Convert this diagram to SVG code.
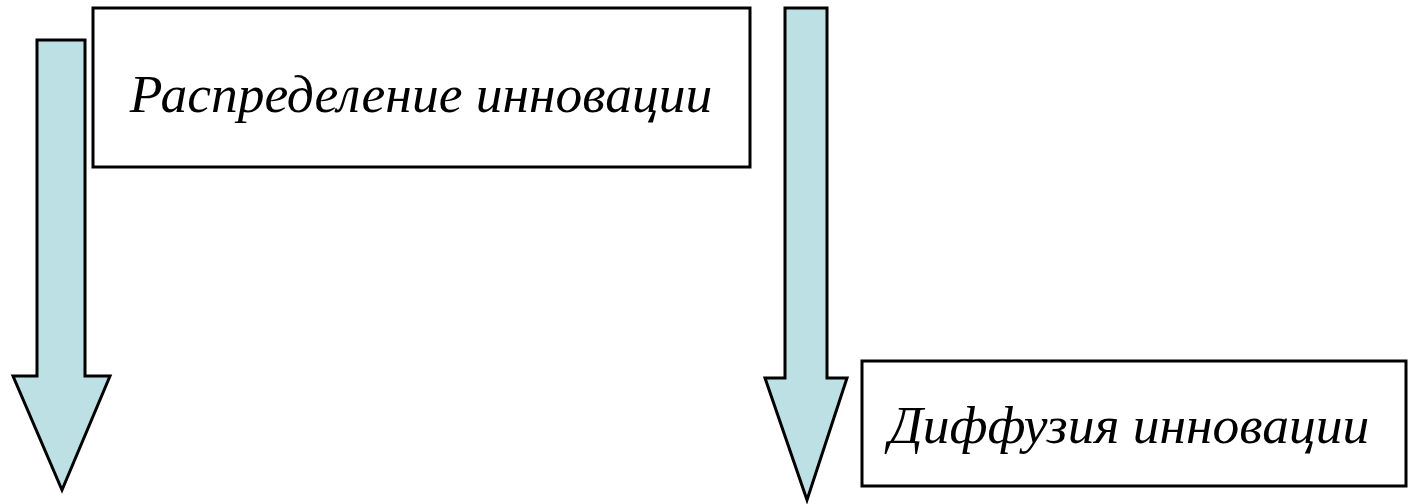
<svg xmlns="http://www.w3.org/2000/svg" width="1410" height="504" viewBox="0 0 1410 504">
<style>
.box{fill:#fff;stroke:#000;stroke-width:3}
.arrow{fill:#bce0e3;stroke:#000;stroke-width:3;stroke-linejoin:miter}
.lbl{font-family:"Liberation Serif","Times New Roman",serif;font-style:italic;font-size:53.5px;fill:#000;text-anchor:middle}
</style>
<rect width="1410" height="504" fill="#fff"/>
<g id="connectors">
<polygon id="arrow-left" class="arrow" points="37,40 85,40 85,376 110,376 62,490 13,376 37,376"/>
<polygon id="arrow-right" class="arrow" points="785,8 827,8 827,378 847,378 807,500 765,378 785,378"/>
</g>
<g id="node-distribution">
<rect class="box" x="93" y="8" width="657" height="159"/>
<text class="lbl" x="421" y="112">Распределение инновации</text>
</g>
<g id="node-diffusion">
<rect class="box" x="862" y="361" width="544" height="125"/>
<text class="lbl" x="1129" y="443">Диффузия инновации</text>
</g>
</svg>
